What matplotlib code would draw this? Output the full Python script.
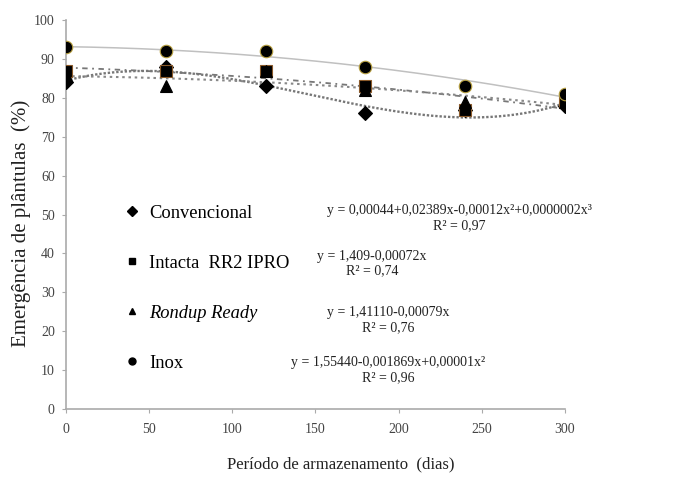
import numpy as np
import matplotlib
matplotlib.use("Agg")
import matplotlib.pyplot as plt
from matplotlib.lines import Line2D

days = [0, 60, 120, 180, 240, 300]
convencional = [84, 88, 83, 76, 77, 78]
intacta = [87, 87, 87, 83, 77, 79]
rondup = [86, 83, 87, 82, 79, 79]
inox = [93, 92, 92, 88, 83, 81]

series_names = ["Convencional", "Intacta  RR2 IPRO", "Rondup Ready", "Inox"]
equations = [
    "y = 0,00044+0,02389x-0,00012x²+0,0000002x³\nR² = 0,97",
    "y = 1,409-0,00072x\nR² = 0,74",
    "y = 1,41110-0,00079x\nR² = 0,76",
    "y = 1,55440-0,001869x+0,00001x²\nR² = 0,96",
]
fit_degrees = [3, 2, 2, 2]
markers = ["D", "s", "^", "o"]
marker_sizes = [7, 8, 8, 9]
edge_colors = ["black", "#8a5a2a", "black", "#b8a040"]
line_styles = [(0, (1, 0.8)), (0, (3, 2.5, 1, 2.5)), (0, (1.2, 1.8)), "-"]
line_colors = ["#777777", "#777777", "#888888", "#c0c0c0"]
line_widths = [1.7, 1.3, 1.5, 1.1]

fig = plt.figure(figsize=(6.76, 4.8), dpi=100)
ax = fig.add_axes([0.0976, 0.148, 0.738, 0.81])

x = np.array(days, dtype=float)
xs = np.linspace(0, 300, 200)
data = [convencional, intacta, rondup, inox]
for vals, deg, ls, lc, lw in zip(data, fit_degrees, line_styles, line_colors, line_widths):
    p = np.polyfit(x, np.array(vals, dtype=float), deg)
    ax.plot(xs, np.polyval(p, xs), linestyle=ls, color=lc, lw=lw, zorder=2)

for vals, m, ms, ec in zip(data, markers, marker_sizes, edge_colors):
    ax.plot(days, vals, linestyle="none", marker=m, ms=ms, color="black",
            markeredgecolor=ec, markeredgewidth=0.8, zorder=3)

ax.set_xlim(0, 300)
ax.set_ylim(0, 100)
ax.set_xticks(range(0, 301, 50))
ax.set_yticks(range(0, 101, 10))
for s in ["top", "right"]:
    ax.spines[s].set_visible(False)
for s in ["left", "bottom"]:
    ax.spines[s].set_color("#aaaaaa")
    ax.spines[s].set_linewidth(1.2)
ax.tick_params(axis="both", colors="#aaaaaa", length=3, width=0.8, direction="out")
ax.tick_params(axis="x", pad=7)
ax.tick_params(axis="y", pad=5)
for lab in ax.get_xticklabels() + ax.get_yticklabels():
    lab.set_color("#444444")
    lab.set_fontfamily("Liberation Serif")
    lab.set_fontsize(10)

ax.set_ylabel("Emergência de plântulas  (%)", family="Liberation Serif", fontsize=15,
              color="#222222")
ax.yaxis.set_label_coords(-0.070, 0.478)
ax.set_xlabel("Período de armazenamento  (dias)", family="Liberation Serif", fontsize=12,
              color="#222222")
ax.xaxis.set_label_coords(0.551, -0.123)

handles = [Line2D([], [], linestyle="none", marker=m, ms=5, color="black")
           for m in markers]
leg = ax.legend(handles, series_names, loc="upper left", bbox_to_anchor=(0.080, 0.568),
                frameon=False, labelspacing=1.79, handletextpad=0.45, handlelength=1.0,
                prop={"family": "Liberation Serif", "size": 13.3})
leg.get_texts()[2].set_style("italic")

eq_pos = [(0.788, 0.490), (0.613, 0.374), (0.646, 0.229), (0.645, 0.100)]
for (ex, ey), eq in zip(eq_pos, equations):
    ax.text(ex, ey, eq, ha="center", va="center", family="Liberation Serif",
            fontsize=10, color="#222222", transform=ax.transAxes, linespacing=1.2)

fig.savefig("out.png", dpi=100, facecolor="white")
